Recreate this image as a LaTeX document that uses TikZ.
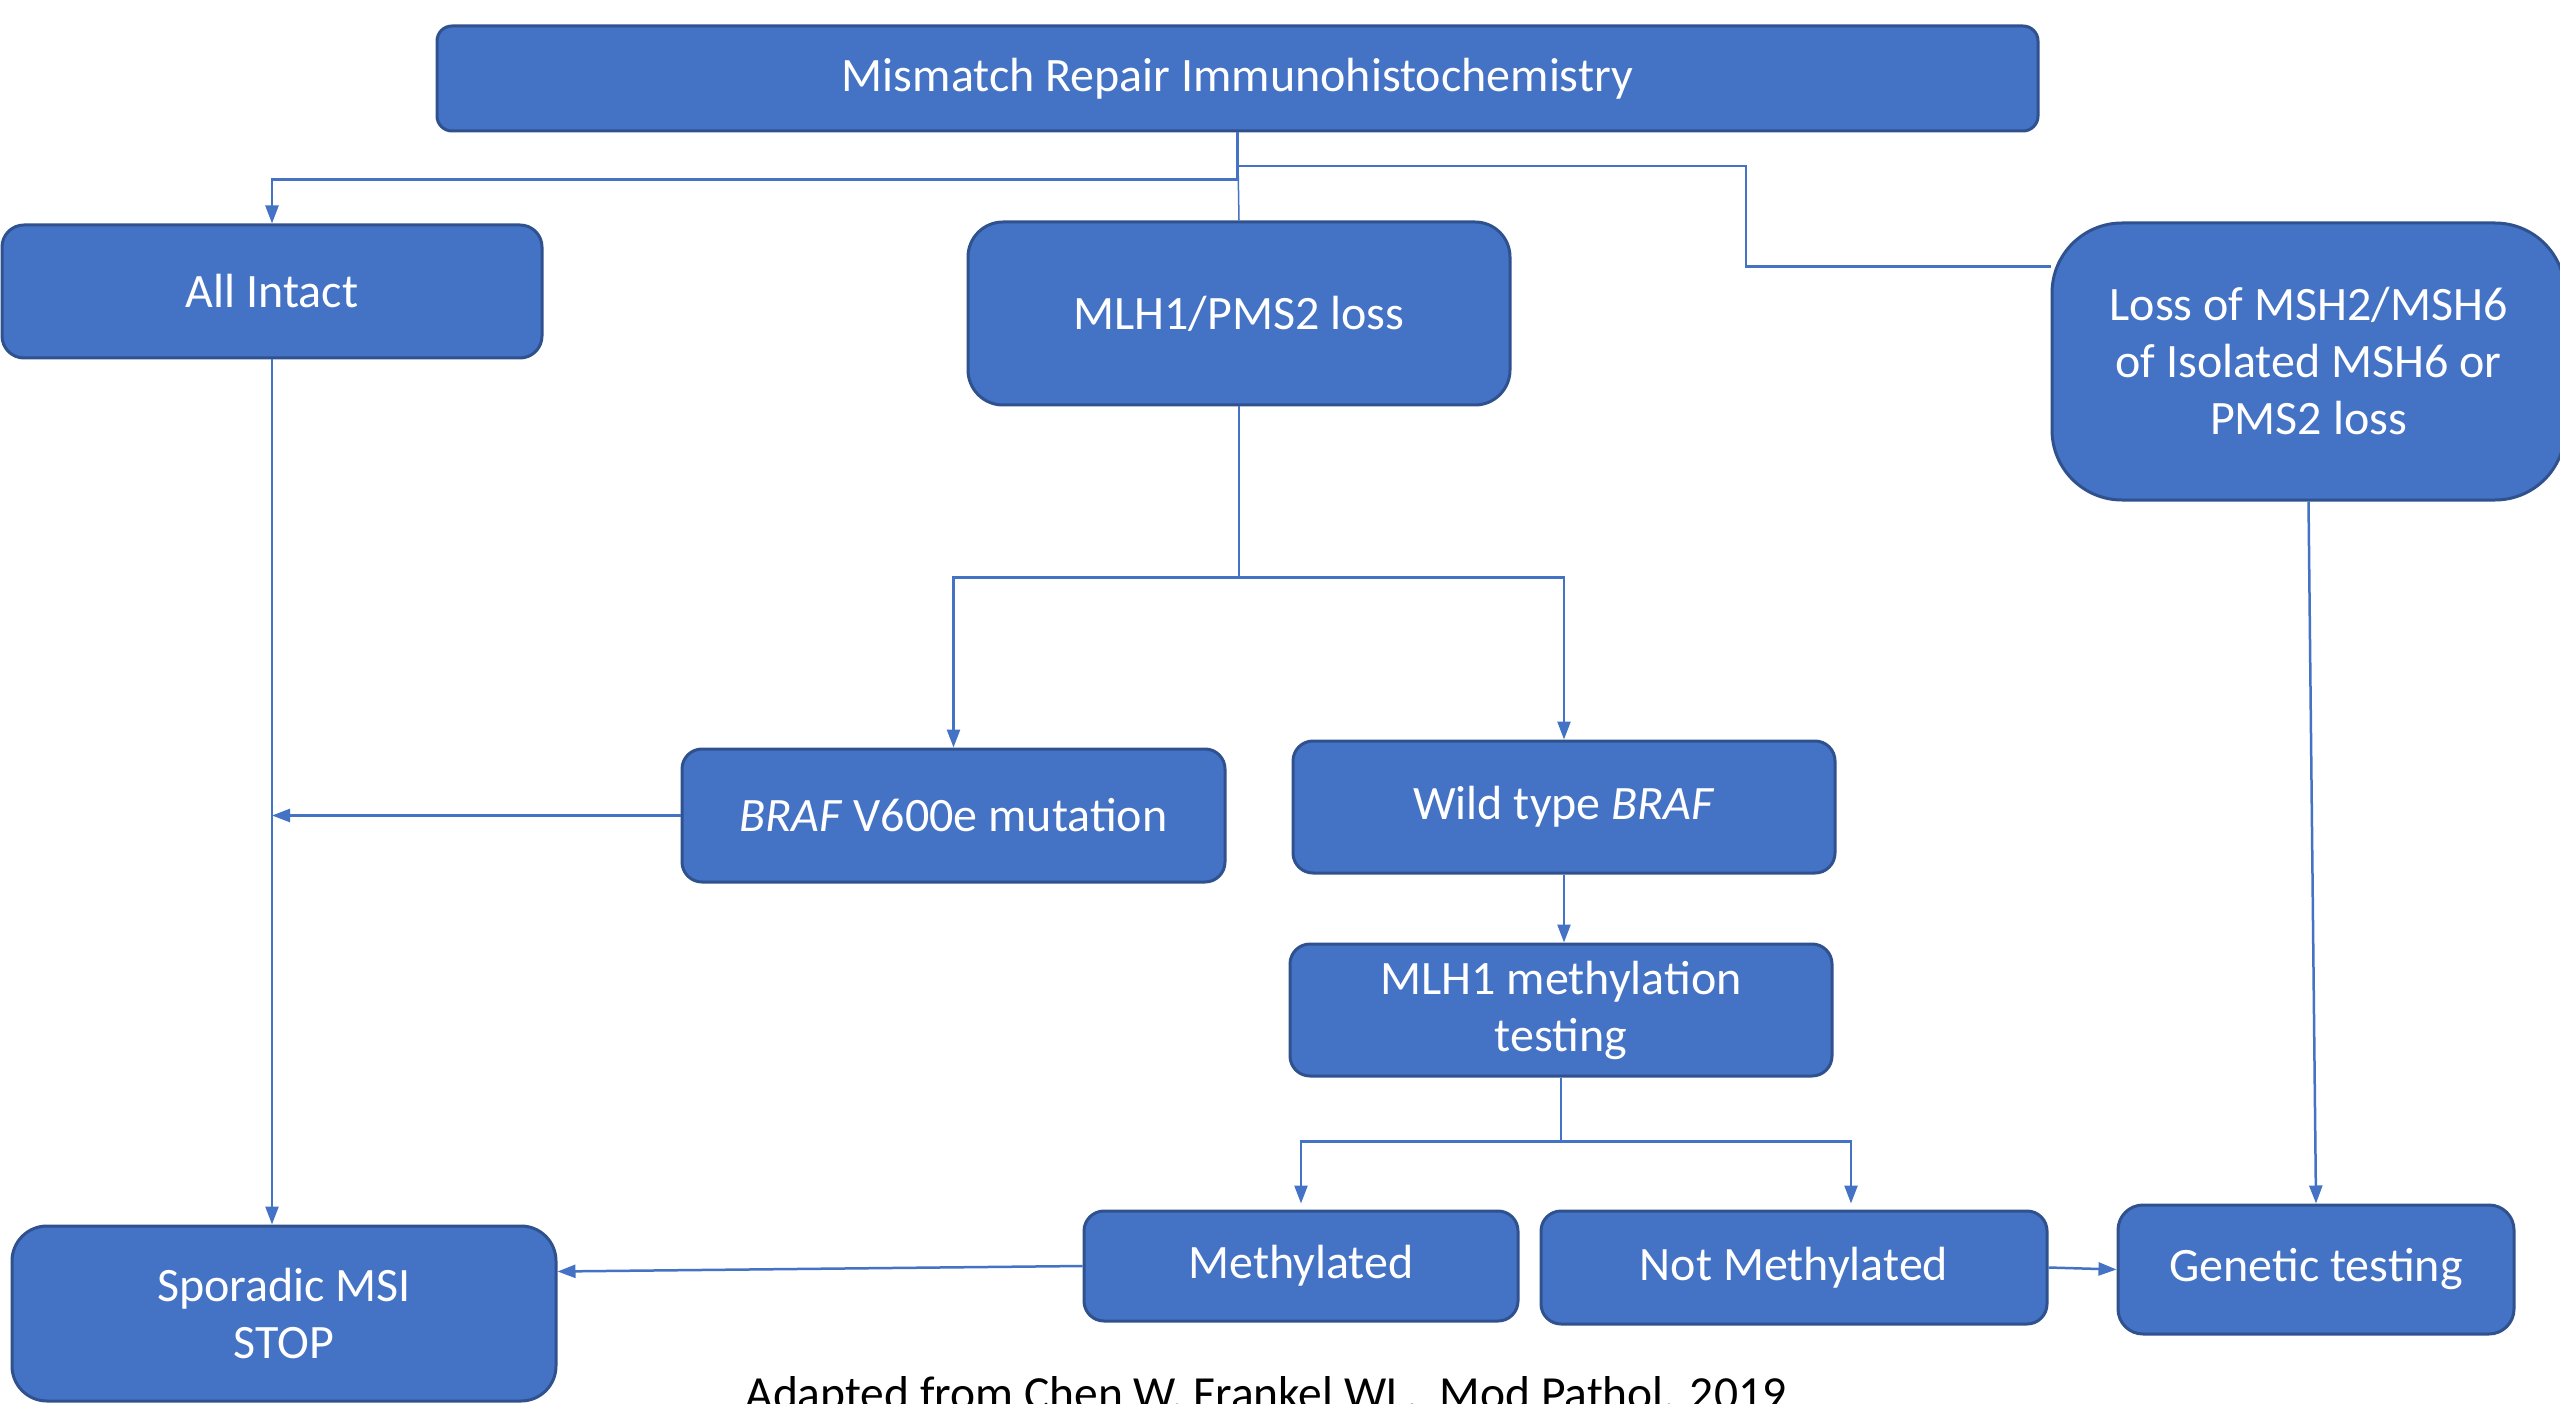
\documentclass[tikz,border=0pt]{standalone}
\usepackage{fontspec}
\setmainfont{Carlito}
\usetikzlibrary{arrows.meta,calc}
\definecolor{boxfill}{HTML}{4472C4}
\definecolor{boxline}{HTML}{2F528F}
\definecolor{conncol}{HTML}{4472C4}
\tikzset{
  flowbox/.style={draw=boxline, fill=boxfill, line width=3pt, text=white,
    font=\fontsize{48}{57}\selectfont, align=center, inner sep=0pt},
  conn/.style={draw=conncol, line width=2.5pt},
  arr/.style={conn, -{Triangle[length=18pt,width=13pt]}},
  capt/.style={text=black, font=\fontsize{47.5}{57}\selectfont, inner sep=0pt}
}
\begin{document}
\begin{tikzpicture}[x=1pt,y=-1pt]
\useasboundingbox (0,0) rectangle (2560,1404);
\fill[white] (0,0) rectangle (2560,1404);

\node[flowbox, minimum width=1601pt, minimum height=105pt, rounded corners=15pt] (top) at (1237.5,78.5) {Mismatch Repair Immunohistochemistry};
\node[flowbox, minimum width=540pt, minimum height=133pt, rounded corners=22pt] (intact) at (272,291.5) {All Intact};
\node[flowbox, minimum width=542pt, minimum height=183pt, rounded corners=35pt] (mlh) at (1239,313.5) {MLH1/PMS2 loss};
\node[flowbox, minimum width=513pt, minimum height=277pt, rounded corners=70pt] (loss) at (2308.5,361.5) {Loss of MSH2/MSH6\\of Isolated MSH6 or\\PMS2 loss};
\node[flowbox, minimum width=543pt, minimum height=133pt, rounded corners=20pt] (braf) at (953.5,815.5) {\textit{BRAF} V600e mutation};
\node[flowbox, minimum width=542pt, minimum height=132pt, rounded corners=20pt] (wild) at (1564,807) {Wild type \textit{BRAF}};
\node[flowbox, minimum width=542pt, minimum height=132pt, rounded corners=20pt] (methtest) at (1561,1010) {MLH1 methylation\\testing};
\node[flowbox, minimum width=434pt, minimum height=110pt, rounded corners=20pt] (methylated) at (1301,1266) {Methylated};
\node[flowbox, minimum width=506pt, minimum height=113pt, rounded corners=20pt] (notmeth) at (1794,1267.5) {Not Methylated};
\node[flowbox, minimum width=396pt, minimum height=129pt, rounded corners=25pt] (genetic) at (2316,1269.5) {Genetic testing};
\node[flowbox, minimum width=544pt, minimum height=175pt, rounded corners=35pt] (sporadic) at (284,1313.5) {Sporadic MSI\\STOP};

\node[capt, anchor=base] (cap) at (1266,1409) {Adapted from Chen W, Frankel WL.\ \ Mod Pathol. 2019};

% connectors from top box
\draw[arr] (top.south) -- ++(0,47) -| (intact.north);
\draw[conn] (top.south) |- (1746,166) |- ($(loss.west)+(0,-95)$);
\draw[draw=conncol, line width=1.5pt] (top.south) -- (mlh.north);

% MLH1 branch
\draw[arr] (mlh.south) -- ++(0,171) -| (braf.north);
\draw[arr] (mlh.south) -- ++(0,171) -| (wild.north);

% BRAF to all-intact line
\draw[arr] (braf.west) -- (intact.south |- braf.west);
\draw[arr] (intact.south) -- (sporadic.north -| intact.south);

% wild type to methylation testing
\draw[arr] (wild.south) -- (methtest.north -| wild.south);

% methylation testing branches
\draw[arr] (methtest.south) -- ++(0,64) -| ($(methylated.north)+(0,-6)$);
\draw[arr] (methtest.south) -- ++(0,64) -| ($(notmeth.north)+(57,-6)$);

% results
\draw[arr] (methylated.west) -- ($(sporadic.east)+(0,-42)$);
\draw[arr] (notmeth.east) -- (genetic.west);
\draw[arr] (loss.south) -- (genetic.north);
\end{tikzpicture}
\end{document}
